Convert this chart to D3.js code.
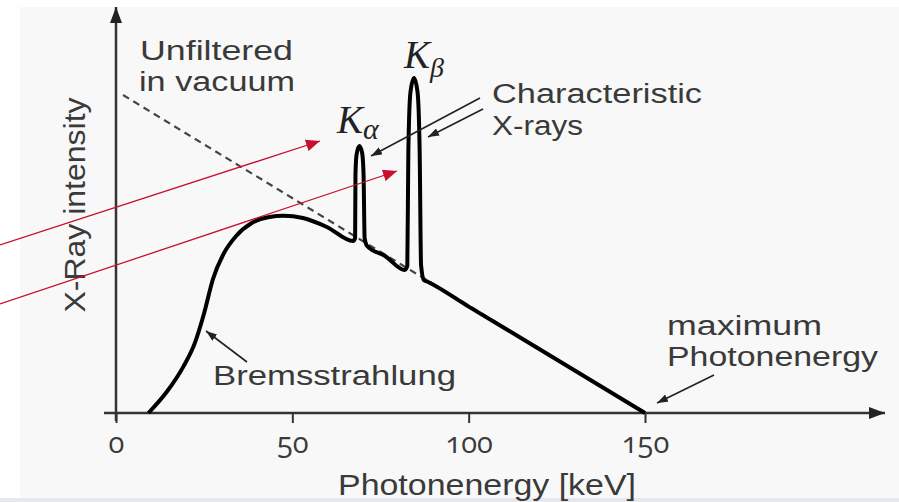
<!DOCTYPE html>
<html>
<head>
<meta charset="utf-8">
<script src="https://cdn.jsdelivr.net/npm/d3@7"></script>
<style>
  html, body { margin: 0; padding: 0; background: #fff; }
  svg { display: block; }
  .lbl { font-family: "Liberation Sans", "Open Sans", sans-serif; fill: #3a3a3a; }
  .num { font-family: "Open Sans", "Noto Sans", sans-serif; fill: #3a3a3a; }
  .sym { font-family: "Liberation Serif", "DejaVu Serif", serif; font-style: italic; fill: #222; }
</style>
</head>
<body>
<svg width="899" height="502"></svg>
<script>
// Spectrum: energy in keV, intensity in arbitrary units (0..100)
const spectrumKeV = [
  9.2, 14.4, 19.1, 22.4, 25.0, 27.5, 30.5, 34.0, 38.5, 43.5, 47.5, 53.0, 59.8, 67.2,
  67.8, 67.9, 68.2, 69.0, 69.8, 70.2, 70.5, 71.2,
  76.3, 81.9,
  82.6, 82.9, 83.5, 84.5, 85.5, 86.1, 86.5, 87.3, 88.5,
  100, 120, 150,
];
const spectrumIntensity = [
  0, 5.3, 11.6, 17.6, 25.0, 33.5, 39.8, 44.2, 47.5, 49, 49.3, 48.75, 46.5, 43,
  43.75, 59.5, 64.5, 66.75, 65, 59.5, 43.75, 41.75,
  39.25, 35.75,
  36.75, 65.75, 80.25, 83.75, 80.25, 65.75, 37, 33.25, 32.75,
  26.6, 16, 0,
];
const unfilteredKeV = [2, 150];
const unfilteredIntensity = [79.5, 0];
const xTicks = [0, 50, 100, 150];
const xLabel = "Photonenergy [keV]";
const yLabel = "X-Ray intensity";

const svg = d3.select("svg");

const x = d3.scaleLinear().domain([0, 150]).range([116, 645]);
const y = d3.scaleLinear().domain([0, 100]).range([413, 13]);

function addMarker(defs, id, color, len, half) {
  defs
    .append("marker")
    .attr("id", id)
    .attr("markerUnits", "userSpaceOnUse")
    .attr("viewBox", `0 ${-half} ${len} ${2 * half}`)
    .attr("refX", len)
    .attr("refY", 0)
    .attr("markerWidth", len)
    .attr("markerHeight", 2 * half)
    .attr("orient", "auto")
    .append("path")
    .attr("d", `M0,${-half}L${len},0L0,${half}Z`)
    .style("fill", color);
}

function drawBackground() {
  svg.append("rect").attr("x", 20).attr("y", 7).attr("width", 879).attr("height", 491).style("fill", "#f8f8f8");
  svg.append("rect").attr("x", 0).attr("y", 498).attr("width", 899).attr("height", 4).style("fill", "#e6e8ee");
}

function drawAxes() {
  const axisX = d3.axisBottom(x).tickValues(xTicks).tickSize(10).tickSizeOuter(0).tickPadding(9);
  const g = svg.append("g").attr("transform", `translate(0, ${y(0)})`).call(axisX);
  g.select(".domain").remove();
  g.selectAll(".tick line").style("stroke", "#333").style("stroke-width", 2);
  g.selectAll(".tick text")
    .attr("class", "num")
    .style("font-size", "29px")
    .style("font-variant-numeric", "oldstyle-nums")
    .style("fill", "#3a3a3a");

  svg.append("line")
    .attr("x1", 104).attr("y1", y(0)).attr("x2", 885).attr("y2", y(0))
    .style("stroke", "#333").style("stroke-width", 2.5)
    .attr("marker-end", "url(#axisHead)");
  svg.append("line")
    .attr("x1", x(0)).attr("y1", y(0) + 8).attr("x2", x(0)).attr("y2", 7)
    .style("stroke", "#333").style("stroke-width", 2.5)
    .attr("marker-end", "url(#axisHead)");

  svg.append("text").attr("class", "lbl")
    .attr("x", 487).attr("y", 495)
    .attr("text-anchor", "middle")
    .attr("textLength", 298).attr("lengthAdjust", "spacingAndGlyphs")
    .style("font-size", "29px")
    .text(xLabel);

  svg.append("text").attr("class", "lbl")
    .attr("transform", "translate(85, 205) rotate(-90)")
    .attr("text-anchor", "middle")
    .attr("textLength", 215).attr("lengthAdjust", "spacingAndGlyphs")
    .style("font-size", "29px")
    .text(yLabel);
}

function drawSpectrum() {
  const line = d3.line().x((d) => x(d[0])).y((d) => y(d[1]));

  svg.append("path")
    .datum(d3.zip(unfilteredKeV, unfilteredIntensity))
    .attr("d", line)
    .style("fill", "none")
    .style("stroke", "#444")
    .style("stroke-width", 2.2)
    .style("stroke-dasharray", "7,5");

  svg.append("path")
    .datum(d3.zip(spectrumKeV, spectrumIntensity))
    .attr("d", line.curve(d3.curveMonotoneX))
    .style("fill", "none")
    .style("stroke", "#000")
    .style("stroke-width", 4)
    .style("stroke-linejoin", "round");
}

function drawLabels() {
  const texts = [
    { t: "Unfiltered", x: 140, y: 60, w: 153 },
    { t: "in vacuum", x: 139, y: 91, w: 156 },
    { t: "Characteristic", x: 492, y: 103, w: 210 },
    { t: "X-rays", x: 492, y: 135, w: 91 },
    { t: "Bremsstrahlung", x: 213, y: 385, w: 243 },
    { t: "maximum", x: 667, y: 335, w: 155 },
    { t: "Photonenergy", x: 667, y: 366, w: 211 },
  ];
  svg.selectAll(".note")
    .data(texts)
    .enter()
    .append("text")
    .attr("class", "lbl note")
    .attr("x", (d) => d.x)
    .attr("y", (d) => d.y)
    .attr("textLength", (d) => d.w)
    .attr("lengthAdjust", "spacingAndGlyphs")
    .style("font-size", "27px")
    .text((d) => d.t);

  const kb = svg.append("text").attr("class", "sym").attr("x", 404).attr("y", 68).style("font-size", "39px");
  kb.append("tspan").text("K");
  kb.append("tspan").attr("dy", 9).style("font-size", "28px").text("β");

  const ka = svg.append("text").attr("class", "sym").attr("x", 337).attr("y", 133).style("font-size", "39px");
  ka.append("tspan").text("K");
  ka.append("tspan").attr("dy", 6).style("font-size", "30px").text("α");
}

function drawArrows() {
  const black = [
    [247, 362, 206, 331],
    [480, 98, 371, 156],
    [483, 109, 428, 137],
    [714, 375, 657, 403],
  ];
  svg.selectAll(".pointer")
    .data(black)
    .enter()
    .append("line")
    .attr("x1", (d) => d[0]).attr("y1", (d) => d[1])
    .attr("x2", (d) => d[2]).attr("y2", (d) => d[3])
    .style("stroke", "#222")
    .style("stroke-width", 1.6)
    .attr("marker-end", "url(#smallHead)");

  const red = [
    [0, 245, 320, 141],
    [0, 304, 397, 171],
  ];
  svg.selectAll(".red")
    .data(red)
    .enter()
    .append("line")
    .attr("x1", (d) => d[0]).attr("y1", (d) => d[1])
    .attr("x2", (d) => d[2]).attr("y2", (d) => d[3])
    .style("stroke", "#c8102e")
    .style("stroke-width", 1.3)
    .attr("marker-end", "url(#redHead)");
}

const defs = svg.append("defs");
addMarker(defs, "axisHead", "#222", 16, 6);
addMarker(defs, "smallHead", "#222", 11, 4);
addMarker(defs, "redHead", "#c8102e", 14, 6);

drawBackground();
drawAxes();
drawSpectrum();
drawLabels();
drawArrows();
</script>
</body>
</html>
